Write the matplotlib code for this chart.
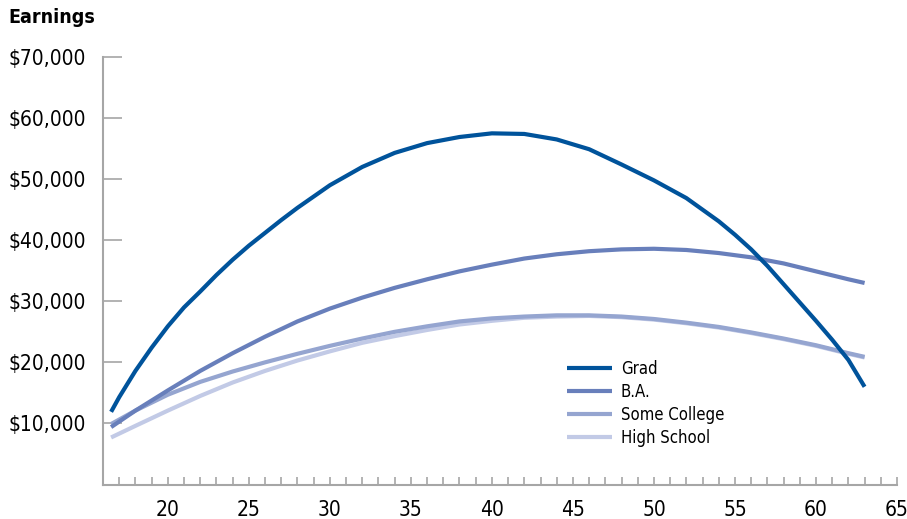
import matplotlib
matplotlib.use('Agg')
import matplotlib.pyplot as plt
from matplotlib.ticker import MultipleLocator, FuncFormatter

plt.rcParams['font.family'] = ['DejaVu Sans']
plt.rcParams['font.stretch'] = 'condensed'

ages = [16.5, 18, 20, 22, 24, 26, 28, 30, 32, 34, 36, 38, 40, 42, 44, 46,
        48, 50, 52, 54, 56, 58, 60, 62, 63]
grad_ages = [16.5, 17, 18, 19, 20, 21, 22, 23, 24, 25, 26, 27, 28, 30, 32, 34, 36, 38, 40,
             42, 44, 46, 48, 50, 52, 54, 55, 56, 57, 58, 59, 60, 61, 62, 63]

grad = [11.9, 14.3, 18.6, 22.4, 25.9, 29.0, 31.6, 34.3, 36.8, 39.1, 41.2, 43.3, 45.3,
        49.0, 52.0, 54.3, 55.9, 56.9, 57.5, 57.4, 56.5, 54.9, 52.4, 49.8, 46.9, 43.1,
        40.9, 38.5, 35.8, 32.8, 29.8, 26.8, 23.7, 20.4, 16.0]
ba = [9.4, 12.1, 15.4, 18.6, 21.5, 24.2, 26.7, 28.8, 30.6, 32.2, 33.6, 34.9,
      36.0, 37.0, 37.7, 38.2, 38.5, 38.6, 38.4, 37.9, 37.2, 36.2, 34.9, 33.6, 33.0]
some_college = [9.9, 12.1, 14.7, 16.8, 18.5, 20.0, 21.4, 22.7, 23.9, 25.0, 25.9, 26.7,
                27.2, 27.5, 27.7, 27.7, 27.5, 27.1, 26.5, 25.8, 24.9, 23.9, 22.8, 21.5, 20.9]
high_school = [7.7, 9.6, 12.1, 14.5, 16.7, 18.6, 20.3, 21.8, 23.2, 24.3, 25.3, 26.2,
               26.8, 27.3, 27.5, 27.6, 27.4, 27.0, 26.4, 25.7, 24.8, 23.8, 22.7, 21.4, 20.8]

labels = ['Grad', 'B.A.', 'Some College', 'High School']
colors = ['#00539b', '#687fbb', '#95a5d0', '#c2cae6']
series = [(grad_ages, grad), (ages, ba), (ages, some_college), (ages, high_school)]

fig = plt.figure(figsize=(9.07, 5.19), dpi=100)
ax = fig.add_axes([103 / 907, 1 - 484.5 / 519, 794 / 907, 427.5 / 519])

for i, ((xs, vals), lab, col) in enumerate(zip(series, labels, colors)):
    ax.plot(xs, [v * 1000 for v in vals], color=col, lw=3, label=lab,
            solid_capstyle='butt', solid_joinstyle='round', zorder=10 - i)

ax.set_xlim(16, 65)
ax.set_ylim(0, 70000)
ax.set_yticks(range(10000, 70001, 10000))
ax.yaxis.set_major_formatter(FuncFormatter(lambda v, p: '${:,.0f}'.format(v)))
ax.xaxis.set_major_locator(MultipleLocator(5))
ax.xaxis.set_minor_locator(MultipleLocator(1))

for s in ['top', 'right']:
    ax.spines[s].set_visible(False)
for s in ['left', 'bottom']:
    ax.spines[s].set_color('#a6a6a6')
    ax.spines[s].set_linewidth(1.5)

ax.tick_params(axis='y', direction='in', length=14, width=1.2, color='#a6a6a6',
               pad=12, labelsize=15)
ax.tick_params(axis='x', which='both', direction='in', length=6, width=1.2,
               color='#a6a6a6', pad=11, labelsize=15)

fig.text(8 / 907, 1 - 8 / 519, 'Earnings', fontsize=14, fontweight='bold',
         va='top', ha='left')

ax.legend(loc='upper left', bbox_to_anchor=(0.585, 0.292), frameon=False,
          fontsize=12, handlelength=2.7, handletextpad=0.5, labelspacing=0.3,
          borderpad=0, borderaxespad=0)

plt.savefig('out.png', dpi=100)
